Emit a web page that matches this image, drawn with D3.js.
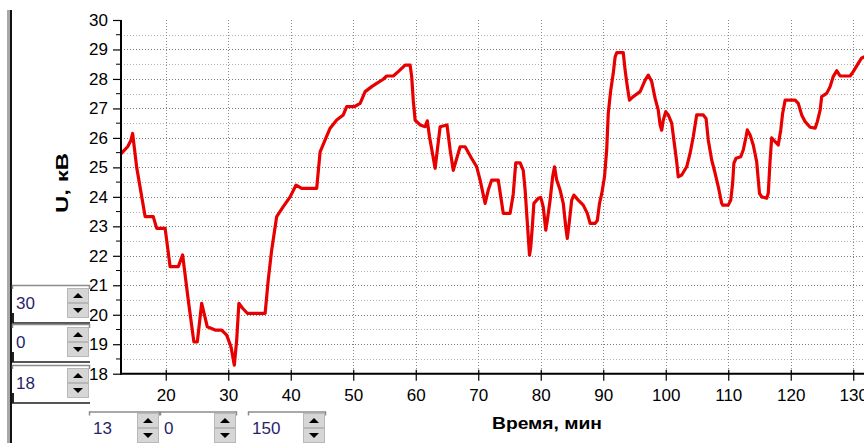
<!DOCTYPE html>
<html>
<head>
<meta charset="utf-8">
<script src="https://cdn.jsdelivr.net/npm/d3@7"></script>
<style>
  html, body { margin: 0; padding: 0; background: #fff; }
  svg { display: block; }
  text { font-family: "Liberation Sans", Arial, sans-serif; }
</style>
</head>
<body>
<svg id="chart" width="864" height="443"></svg>
<script>
// Time, min
const timeMin = [
  13, 13.9, 14.4, 14.7, 15.35, 16.7, 18.0, 18.55, 19.9, 20.7, 22.0, 22.7, 23.6, 24.5, 25.05,
  25.75, 26.65, 27.9, 28.95, 29.75, 30.44, 30.97, 31.35, 31.7, 32.3, 33.05, 35.9, 36.4, 36.95,
  37.75, 38.8, 39.9, 40.85, 41.75, 44.15, 44.7, 45.5, 46.3, 47.35, 48.4, 48.95, 50.2, 51.1,
  51.9, 52.95, 53.75, 54.8, 55.35, 56.4, 57.2, 58.3, 59.1, 59.35, 59.6, 59.9, 60.7, 61.5,
  61.85, 62.2, 63.1, 63.9, 65.0, 65.5, 66.0, 66.55, 67.1, 67.9, 68.95, 69.75, 70.3, 71.1,
  71.6, 72.15, 73.2, 74.0, 75.1, 75.6, 76.0, 76.7, 77.2, 77.5, 77.75, 78.0, 78.2, 78.4,
  78.65, 78.9, 79.6, 80.0, 80.4, 80.8, 81.05, 81.5, 81.9, 82.2, 82.55, 83.1, 83.6, 84.0,
  84.25, 84.6, 84.95, 85.3, 86.0, 86.8, 87.45, 87.9, 88.7, 89.05, 89.4, 89.75, 90.2, 90.55,
  90.8, 91.2, 91.6, 91.9, 92.15, 93.2, 93.5, 93.85, 94.2, 94.8, 95.9, 96.7, 97.2, 97.75,
  98.3, 98.8, 99.1, 99.35, 99.6, 100.0, 100.4, 100.95, 101.3, 101.75, 102.0, 102.55, 103.35,
  103.9, 104.4, 104.95, 106.0, 106.45, 106.8, 107.35, 107.9, 108.4, 108.95, 109.1, 110.0,
  110.4, 110.7, 110.9, 111.25, 112.0, 112.4, 112.85, 113.05, 113.5, 114.0, 114.55, 115.0,
  115.35, 116.15, 116.4, 116.7, 116.95, 117.5, 118.0, 118.4, 118.7, 119.1, 120.7, 121.2,
  121.75, 122.3, 123.1, 123.9, 124.25, 124.7, 124.95, 125.75, 126.3, 126.8, 127.35, 127.9,
  129.5, 130.0, 130.8, 131.3, 131.8
];

// Voltage U, kV
const voltageKV = [
  25.5, 25.7, 25.9, 26.15, 25.0, 23.33, 23.33, 22.93, 22.93, 21.63, 21.63, 22.03, 20.5, 19.08, 19.08,
  20.39, 19.59, 19.48, 19.48, 19.31, 18.91, 18.29, 19.14, 20.39, 20.22, 20.05, 20.05, 21.18, 22.2,
  23.33, 23.67, 24.0, 24.4, 24.29, 24.29, 25.53, 25.93, 26.33, 26.61, 26.78, 27.06, 27.06, 27.17,
  27.57, 27.74, 27.85, 27.99, 28.1, 28.1, 28.25, 28.47, 28.47, 28.08, 27.28, 26.6, 26.44, 26.38,
  26.58, 26.04, 24.97, 26.38, 26.44, 25.6, 24.9, 25.3, 25.7, 25.7, 25.3, 25.02, 24.57, 23.78,
  24.23, 24.57, 24.57, 23.44, 23.44, 24.1, 25.15, 25.15, 24.9, 24.23, 23.44, 22.65, 22.02, 22.3,
  22.98, 23.78, 23.95, 23.98, 23.66, 22.87, 23.2, 23.89, 24.68, 25.02, 24.57, 24.23, 23.78, 22.98,
  22.59, 23.2, 23.89, 24.06, 23.89, 23.72, 23.44, 23.1, 23.1, 23.2, 23.78, 24.1, 24.68, 25.59,
  26.83, 27.62, 28.19, 28.75, 28.89, 28.89, 28.3, 27.74, 27.28, 27.4, 27.57, 27.96, 28.13, 27.91,
  27.34, 26.94, 26.44, 26.26, 26.6, 26.89, 26.78, 26.5, 25.93, 25.19, 24.68, 24.74, 25.02,
  25.48, 26.04, 26.78, 26.78, 26.66, 25.93, 25.25, 24.8, 24.35, 23.78, 23.72, 23.72,
  23.89, 24.46, 25.14, 25.31, 25.36, 25.59, 26.04, 26.27, 26.1, 25.76, 25.19, 24.12,
  24.0, 23.95, 24.12, 25.25, 26.0, 25.87, 25.76, 26.27, 26.83, 27.28, 27.28, 27.17,
  26.78, 26.55, 26.36, 26.33, 26.55, 26.94, 27.4, 27.51, 27.74, 28.08, 28.28, 28.1,
  28.1, 28.25, 28.53, 28.7, 28.75
];

const xTickValues = [20, 30, 40, 50, 60, 70, 80, 90, 100, 110, 120, 130, 140, 150];
const yTickValues = [18, 19, 20, 21, 22, 23, 24, 25, 26, 27, 28, 29, 30];
const xAxisTitle = "Время, мин";
const yAxisTitle = "U, кВ";

// Range controls: U max / U step / U min, and t min / t step / t max
const ySpinValues = ["30", "0", "18"];
const xSpinValues = ["13", "0", "150"];

const svg = d3.select("#chart");
const W = 864, H = 443;

const plot = { left: 121, top: 20, bottom: 373.7 };
const x = d3.scaleLinear().domain([13, 150]).range([plot.left + 1, plot.left + 1 + 137 * 6.25]);
const y = d3.scaleLinear().domain([18, 30]).range([plot.bottom, plot.top]);

// dotted grid
const grid = svg.append("g");
const halfSteps = d3.range(18.5, 29.75, 0.5);
grid.selectAll("line.h").data(halfSteps).join("line")
  .attr("x1", plot.left).attr("x2", W)
  .attr("y1", d => Math.round(y(d)) + 0.5).attr("y2", d => Math.round(y(d)) + 0.5)
  .attr("stroke", d => Number.isInteger(d) ? "#7a7a7a" : "#b4b4b4")
  .attr("stroke-width", 1)
  .attr("stroke-dasharray", "1,2");
grid.selectAll("line.v").data(xTickValues).join("line")
  .attr("x1", d => Math.round(x(d)) + 0.5).attr("x2", d => Math.round(x(d)) + 0.5)
  .attr("y1", plot.top).attr("y2", plot.bottom)
  .attr("stroke", "#8a8a8a")
  .attr("stroke-width", 1)
  .attr("stroke-dasharray", "1,2");

// data line
const line = d3.line().x(d => x(d[0])).y(d => y(d[1]));
svg.append("path")
  .datum(d3.zip(timeMin, voltageKV))
  .attr("d", line)
  .attr("fill", "none")
  .attr("stroke", "#e80000")
  .attr("stroke-width", 3.2)
  .attr("stroke-linejoin", "round")
  .attr("stroke-linecap", "square");

// axes
const yAxis = d3.axisLeft(y).tickValues(yTickValues).tickSize(8).tickPadding(5).tickFormat(d3.format("d"));
const gy = svg.append("g").attr("transform", `translate(${plot.left},0)`).call(yAxis);
gy.select(".domain").remove();
gy.selectAll(".tick line").attr("stroke", "#000").attr("stroke-width", 1.2);
gy.selectAll(".tick text").attr("font-size", 17).attr("fill", "#000")
  .attr("font-family", "'Liberation Sans', Arial, sans-serif");

// minor ticks on y
svg.append("g").selectAll("line").data(d3.range(18.5, 30, 1)).join("line")
  .attr("x1", plot.left - 5).attr("x2", plot.left)
  .attr("y1", d => y(d)).attr("y2", d => y(d))
  .attr("stroke", "#000").attr("stroke-width", 1);

const xAxis = d3.axisBottom(x).tickValues(xTickValues).tickSize(7).tickPadding(8).tickFormat(d3.format("d"));
const gx = svg.append("g").attr("transform", `translate(0,${plot.bottom})`).call(xAxis);
gx.select(".domain").remove();
gx.selectAll(".tick line").attr("stroke", "#000").attr("stroke-width", 1.2).attr("y1", -4);
gx.selectAll(".tick text").attr("font-size", 17).attr("fill", "#000")
  .attr("font-family", "'Liberation Sans', Arial, sans-serif");

// axis lines
svg.append("line").attr("x1", plot.left).attr("x2", plot.left)
  .attr("y1", plot.top).attr("y2", plot.bottom + 1)
  .attr("stroke", "#000").attr("stroke-width", 2);
svg.append("line").attr("x1", plot.left - 1).attr("x2", W)
  .attr("y1", plot.bottom).attr("y2", plot.bottom)
  .attr("stroke", "#000").attr("stroke-width", 2);

// axis titles
svg.append("text")
  .attr("x", 547).attr("y", 429)
  .attr("text-anchor", "middle")
  .attr("font-size", 16).attr("font-weight", "bold")
  .attr("textLength", 110).attr("lengthAdjust", "spacingAndGlyphs")
  .text(xAxisTitle);
svg.append("text")
  .attr("transform", "translate(68,183) rotate(-90)")
  .attr("text-anchor", "middle")
  .attr("font-size", 16).attr("font-weight", "bold")
  .attr("textLength", 60).attr("lengthAdjust", "spacingAndGlyphs")
  .text(yAxisTitle);

// left panel border
svg.append("rect").attr("x", 7).attr("y", 10).attr("width", 3).attr("height", H - 10).attr("fill", "#a8a8a8");
svg.append("rect").attr("x", 10).attr("y", 10).attr("width", 2).attr("height", H - 10).attr("fill", "#111");

// spin-box control
function spinBox(g, x0, y0, w, h, value, btnTop, btnH) {
  const box = g.append("g");
  box.append("rect").attr("x", x0).attr("y", y0).attr("width", w).attr("height", h).attr("fill", "#fff");
  // sunken edges
  box.append("line").attr("x1", x0).attr("x2", x0 + w).attr("y1", y0 + 0.5).attr("y2", y0 + 0.5)
    .attr("stroke", "#8c8c8c").attr("stroke-width", 1.5);
  box.append("line").attr("x1", x0 + 0.5).attr("x2", x0 + 0.5).attr("y1", y0).attr("y2", y0 + 4)
    .attr("stroke", "#8c8c8c").attr("stroke-width", 1.5);
  box.append("line").attr("x1", x0 + w - 0.5).attr("x2", x0 + w - 0.5).attr("y1", y0).attr("y2", y0 + 4)
    .attr("stroke", "#8c8c8c").attr("stroke-width", 1.5);
  box.append("text")
    .attr("x", x0 + 4).attr("y", y0 + btnTop + btnH)
    .attr("dominant-baseline", "central")
    .attr("font-size", 17).attr("fill", "#2a1f6a")
    .text(value);
  const bx = x0 + w - 23;
  [0, 1].forEach(i => {
    const by = y0 + btnTop + i * btnH;
    box.append("rect").attr("x", bx + 0.5).attr("y", by + 0.5).attr("width", 21).attr("height", btnH - 1)
      .attr("fill", "#d6d6d6").attr("stroke", "#b8b8b8").attr("stroke-width", 1);
    const cx = bx + 11, cy = by + btnH / 2;
    const pts = i === 0
      ? [[cx - 5, cy + 2.5], [cx + 5, cy + 2.5], [cx, cy - 2.5]]
      : [[cx - 5, cy - 2.5], [cx + 5, cy - 2.5], [cx, cy + 2.5]];
    box.append("path").attr("d", d3.line()(pts) + "Z").attr("fill", "#000");
  });
}

const panel = svg.append("g");
const leftTops = [285, 324, 365];
ySpinValues.forEach((v, i) => {
  spinBox(panel, 12, leftTops[i], 78, 37, v, 3, 15);
  // darker lower edge of the box
  panel.append("line").attr("x1", 12).attr("x2", 90)
    .attr("y1", leftTops[i] + 38).attr("y2", leftTops[i] + 38)
    .attr("stroke", "#555").attr("stroke-width", 2);
  panel.append("line").attr("x1", 13).attr("x2", 13)
    .attr("y1", leftTops[i] + 28).attr("y2", leftTops[i] + 38)
    .attr("stroke", "#222").attr("stroke-width", 2);
});

const bottomBoxes = [[89, 71], [160, 77], [248, 78]];
xSpinValues.forEach((v, i) => {
  spinBox(panel, bottomBoxes[i][0], 411.5, bottomBoxes[i][1], 40, v, 1.5, 15);
});
</script>
</body>
</html>
